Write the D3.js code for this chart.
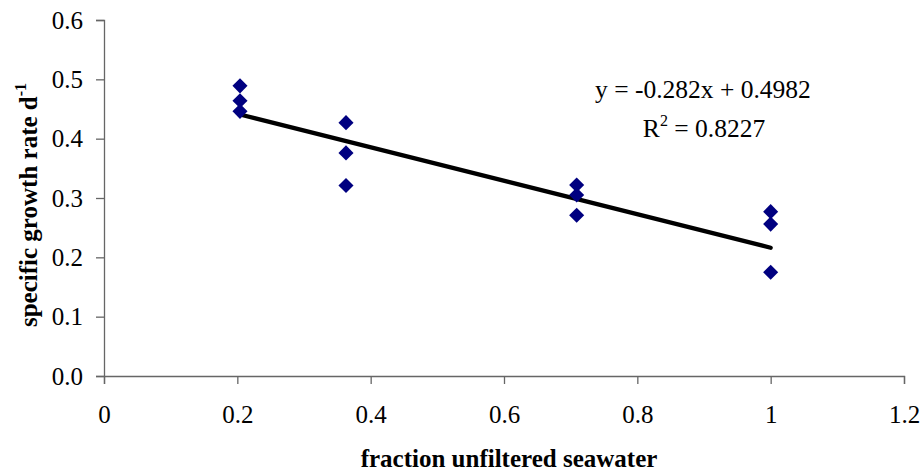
<!DOCTYPE html>
<html>
<head>
<meta charset="utf-8">
<script src="https://cdn.jsdelivr.net/npm/d3@7"></script>
<style>
  body { margin: 0; background: #fff; }
  text { font-family: "Liberation Serif", "Times New Roman", serif; }
</style>
</head>
<body>
<svg id="svg" width="920" height="472"></svg>
<script>
// growth rate vs fraction of unfiltered seawater
var fraction = [0.204, 0.204, 0.204, 0.363, 0.363, 0.363, 0.709, 0.709, 0.709, 1.0, 1.0, 1.0];
var growth   = [0.489, 0.464, 0.446, 0.427, 0.376, 0.321, 0.322, 0.305, 0.271, 0.277, 0.256, 0.175];

var xTicks = [0, 0.2, 0.4, 0.6, 0.8, 1, 1.2];
var yTicks = [0, 0.1, 0.2, 0.3, 0.4, 0.5, 0.6];

// linear trendline shown on the chart
var slope = -0.282, intercept = 0.4982, rSquared = "0.8227";

var svg = d3.select("svg");
var margin = {left: 104, right: 16, top: 20, bottom: 96};
var width = 920 - margin.left - margin.right,
    height = 472 - margin.top - margin.bottom;

var x = d3.scaleLinear().domain([0, 1.2]).range([0, width]);
var y = d3.scaleLinear().domain([0, 0.6]).range([height, 0]);

var g = svg.append("g")
    .attr("transform", "translate(" + margin.left + "," + margin.top + ")");

var xAxis = g.append("g")
    .attr("transform", "translate(0," + height + ")")
    .call(d3.axisBottom(x).tickValues(xTicks).tickSize(8).tickPadding(21)
        .tickFormat(function(d) { return d3.format("")(+d.toFixed(1)); }));

var yAxis = g.append("g")
    .call(d3.axisLeft(y).tickValues(yTicks).tickSize(8).tickPadding(13)
        .tickFormat(d3.format(".1f")));

[xAxis, yAxis].forEach(function(a) {
    a.attr("font-family", null).attr("font-size", null);
    a.select(".domain").attr("stroke", "#666").attr("stroke-width", 1.3);
    a.selectAll(".tick line").attr("stroke", "#666").attr("stroke-width", 1.3);
    a.selectAll(".tick text")
        .attr("fill", "#000")
        .style("font-family", "'Liberation Serif'")
        .style("font-size", "25px");
});

// trendline across the data range
var xmin = d3.min(fraction), xmax = d3.max(fraction);
g.append("line")
    .attr("x1", x(xmin)).attr("y1", y(slope * xmin + intercept))
    .attr("x2", x(xmax)).attr("y2", y(slope * xmax + intercept))
    .attr("stroke", "#000")
    .attr("stroke-width", 4.3)
    .attr("stroke-linecap", "round");

var diamond = d3.symbol().type(d3.symbolDiamond2).size(145);
g.selectAll(".pt")
    .data(fraction)
    .enter().append("path")
    .attr("class", "pt")
    .attr("d", diamond)
    .attr("transform", function(d, i) {
        return "translate(" + x(d) + "," + y(growth[i]) + ")";
    })
    .attr("fill", "#000080");

// equation labels
g.append("text")
    .attr("x", 599).attr("y", 78)
    .attr("text-anchor", "middle")
    .style("font-size", "25.5px")
    .text("y = " + slope + "x + " + intercept);

var r2 = g.append("text")
    .attr("x", 600).attr("y", 117)
    .attr("text-anchor", "middle")
    .style("font-size", "25.5px");
r2.append("tspan").text("R");
r2.append("tspan").attr("dy", -11).style("font-size", "16px").text("2");
r2.append("tspan").attr("dy", 11).text(" = " + rSquared);

// axis titles
svg.append("text")
    .attr("x", 509).attr("y", 467)
    .attr("text-anchor", "middle")
    .style("font-size", "25px").style("font-weight", "bold")
    .text("fraction unfiltered seawater");

var yt = svg.append("text")
    .attr("transform", "translate(37,205) rotate(-90)")
    .attr("text-anchor", "middle")
    .style("font-size", "25px").style("font-weight", "bold");
yt.append("tspan").text("specific growth rate d");
yt.append("tspan").attr("dy", -11).style("font-size", "16px").text("-1");
</script>
</body>
</html>
